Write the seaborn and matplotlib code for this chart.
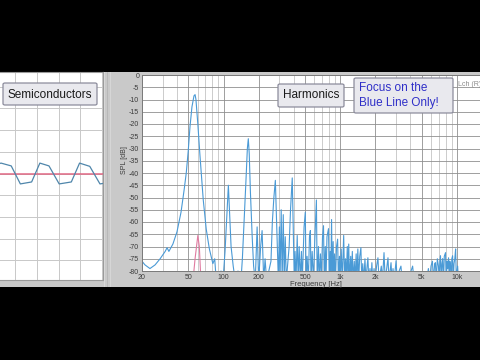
import numpy as np
import pandas as pd
import matplotlib
matplotlib.use("Agg")
import matplotlib.pyplot as plt
from matplotlib.patches import Rectangle, FancyBboxPatch
from matplotlib.ticker import FixedLocator, NullFormatter
import seaborn as sns

# ---------------- data ----------------
# main spectrum (blue line): frequency [Hz], SPL [dB]
spec_freq = [20, 21.2, 23.4, 25.9, 28.6, 31.6, 32.8, 34, 36.8, 39.9, 43.2, 45.9, 47.9, 49.8,
             51.6, 53.6, 55.8, 57, 58, 60.2, 62.6, 67, 71.1, 75.6, 81, 84, 86.6, 91.6, 95.1,
             98.9, 103, 106, 110, 113, 116, 121, 126, 133, 141, 145, 150, 156, 160, 163, 166,
             170, 176, 181, 187, 194, 200, 208, 214, 221, 227, 234, 255, 262, 270, 278, 283,
             289, 295, 301, 305, 312, 318, 325, 331, 338, 345, 365, 375, 388, 395, 404, 410,
             418, 428, 436, 445, 455, 465, 473, 490, 502, 510, 520, 533, 545, 555, 562, 575,
             589, 605, 625, 635, 651, 660, 677, 690, 705, 719, 730, 745, 755, 770, 794, 805,
             820, 830, 843, 855, 870, 880, 895, 910, 930, 950, 965, 985, 1000, 1020, 1040,
             1071, 1090, 1110, 1125, 1150, 1165, 1183, 1200, 1230, 1245, 1270, 1290, 1320,
             1340, 1370, 1390, 1416, 1440, 1470, 1504, 1530, 1560, 1590, 1630, 1660, 1700,
             1727, 1760, 1800, 1840, 1868, 1900, 1950, 1990, 2050, 2106, 2150, 2250, 2300,
             2374, 2430, 2500, 2567, 2620, 2726, 2780, 2835, 2900, 3011, 3080, 3200, 3315,
             3400, 3700, 3800, 4175, 4300, 5500, 5700, 5850, 6000, 6170, 6300, 6450, 6550,
             6650, 6800, 6950, 7050, 7150, 7235, 7350, 7450, 7550, 7682, 7800, 7993, 8100,
             8250, 8350, 8486, 8600, 8700, 8831, 8950, 9050, 9190, 9300, 9450, 9600, 9757,
             9900, 10150, 10300, 20000]
spec_db = [-76, -77.5, -79, -77.5, -75, -72, -70.5, -72, -69, -64, -56, -47, -40, -31,
           -21, -13, -8.5, -8, -10, -20, -32, -51, -63, -71, -77, -75, -84, -84, -80,
           -84, -72, -60, -45, -58, -70, -78, -84, -80, -84, -75, -60, -42, -30, -26, -32,
           -48, -66, -78, -84, -62, -84, -70, -63.5, -84, -75, -84, -76, -60, -50, -43, -55,
           -70, -84, -62, -84, -55, -84, -57, -84, -66, -84, -70, -55, -42, -60, -84, -72,
           -84, -65.5, -84, -70, -84, -72, -84, -62, -56, -84, -74, -84, -66, -63.5, -84, -72,
           -84, -68, -51, -84, -70, -84, -73, -84, -66, -61.5, -84, -70, -84, -66, -62.7, -84,
           -72, -84, -59, -84, -68, -84, -73, -84, -70, -67, -84, -74, -84, -71, -84,
           -65.5, -84, -75, -84, -70, -84, -69, -84, -74, -84, -72, -84, -76,
           -84, -73, -84, -71, -84, -74, -70.5, -84, -77, -84, -75, -84, -78,
           -74.6, -84, -79, -84, -76.6, -84, -79, -84, -78, -74.6, -84, -78, -84,
           -72.5, -84, -79, -74.6, -84, -76.6, -84, -79, -84, -75.8, -84, -80, -78,
           -84, -81, -84, -78, -84, -84, -79, -84, -78, -76, -84, -77, -76.6,
           -84, -75, -78, -84, -76, -73.8, -84, -77, -75, -84, -74, -72.5, -84,
           -76, -79, -74.6, -84, -76, -78, -84, -75, -73.8, -84, -77, -75, -71,
           -84, -78, -84, -84]

# second trace (pink line)
pink_freq = [20, 50, 54.7, 57, 60.2, 62, 64, 20000]
pink_db = [-90, -90, -84, -75, -65.5, -70, -84, -90]

# left panel waveform (time in grid divisions, level in divisions)
wave_t = [-0.80, -0.66, -0.19, 0.23, 0.75, 1.13, 1.55, 2.02, 2.58, 2.96, 3.43, 3.90, 4.10]
wave_v = [0.44, 0.48, 0.35, -0.48, -0.39, 0.48, 0.35, -0.48, -0.39, 0.48, 0.33, -0.48, -0.45]
ref_t = [-0.80, 4.10]
ref_v = [0.0, 0.0]

x_ticks = [20, 50, 100, 200, 500, 1000, 2000, 5000, 10000]
x_labels = ["20", "50", "100", "200", "500", "1k", "2k", "5k", "10k"]
y_ticks = list(range(0, -85, -5))
y_labels = [str(v) for v in y_ticks]

spec = pd.DataFrame({"freq": spec_freq, "spl": spec_db})
pink = pd.DataFrame({"freq": pink_freq, "spl": pink_db})
wave = pd.DataFrame({"t": wave_t, "v": wave_v})
ref = pd.DataFrame({"t": ref_t, "v": ref_v})

# ---------------- figure ----------------
sns.set_style("white")
plt.rcParams["font.family"] = ["Liberation Sans", "DejaVu Sans"]

W, H = 480, 360
fig = plt.figure(figsize=(4.8, 3.6), dpi=100, facecolor="black")


def fx(px):
    return px / W


def fy(py):
    return 1 - py / H


# gray window body
fig.add_artist(Rectangle((0, fy(287)), 1, fy(72) - fy(287), transform=fig.transFigure,
                         facecolor="#c9c9c9", edgecolor="none", zorder=0))
# splitter stripes (subtle)
for px, col in [(104, "#d8d8d8"), (107, "#b8b8b8"), (110, "#d6d6d6")]:
    fig.add_artist(Rectangle((fx(px), fy(287)), fx(1), fy(72) - fy(287),
                             transform=fig.transFigure, facecolor=col, edgecolor="none",
                             zorder=0.5))

# ---------- left panel ----------
axl = fig.add_axes([fx(-2), fy(280), fx(105), fy(72) - fy(280)])
axl.set_facecolor("white")
sns.lineplot(data=ref, x="t", y="v", ax=axl, color="#e0607e", lw=1.3, alpha=0.8,
             sort=False, estimator=None)
sns.lineplot(data=wave, x="t", y="v", ax=axl, color="#4f86ab", lw=0.9,
             sort=False, estimator=None)
axl.set_xlim(-0.8, 4.04)
axl.set_ylim(-4.91, 4.68)
axl.set_xticks([0, 1, 2, 3, 4])
axl.set_yticks([-4, -3, -2, -1, 0, 1, 2, 3, 4])
axl.grid(True, color="#c8c8c8", lw=0.7)
axl.tick_params(length=0, labelbottom=False, labelleft=False)
axl.set_xlabel("")
axl.set_ylabel("")
for s in axl.spines.values():
    s.set_color("#9a9a9a")
    s.set_linewidth(0.8)

# ---------- main spectrum axes ----------
ax = fig.add_axes([fx(142), fy(271), fx(492 - 142), fy(75) - fy(271)])
ax.set_facecolor("white")
ax.set_xscale("log")
sns.lineplot(data=pink, x="freq", y="spl", ax=ax, color="#e07aa0", lw=0.8,
             sort=False, estimator=None)
sns.lineplot(data=spec, x="freq", y="spl", ax=ax, color="#4a9ad6", lw=0.8,
             sort=False, estimator=None)
ax.set_xlim(20, 20000)
ax.set_ylim(-80, 0)
ax.xaxis.set_major_locator(FixedLocator(x_ticks))
ax.set_xticklabels(x_labels)
minor = [m * d for d in (10, 100, 1000, 10000) for m in range(1, 10)
         if m * d not in x_ticks and 20 <= m * d <= 20000]
ax.xaxis.set_minor_locator(FixedLocator(minor))
ax.xaxis.set_minor_formatter(NullFormatter())
ax.set_yticks(y_ticks)
ax.set_yticklabels(y_labels)
ax.grid(True, which="major", axis="both", color="#8f8f8f", lw=0.6)
ax.grid(True, which="minor", axis="x", color="#c4c4c4", lw=0.6)
ax.tick_params(which="both", length=0, labelsize=5, colors="#3a3a3a", pad=2)
ax.set_xlabel("")
ax.set_ylabel("")
for s in ax.spines.values():
    s.set_color("#7a7a7a")
    s.set_linewidth(0.7)

fig.text(fx(124), fy(160), "SPL [dB]", rotation=90, ha="center", va="center",
         fontsize=5, color="#3a3a3a")
fig.text(fx(316), fy(284), "Frequency [Hz]", ha="center", va="center",
         fontsize=5.5, color="#3a3a3a")
fig.text(fx(458), fy(84), "Lch (R)", ha="left", va="center", fontsize=5, color="#8a8a8a")


# ---------- overlay boxes ----------
def box(x0, y0, x1, y1):
    fig.add_artist(FancyBboxPatch((fx(x0), fy(y1)), fx(x1 - x0), fy(y0) - fy(y1),
                                  boxstyle="round,pad=0,rounding_size=0.004",
                                  transform=fig.transFigure, facecolor="#e9e9ee",
                                  edgecolor="#8c8c9c", lw=0.9, zorder=5))


box(3, 83, 97, 105)
fig.text(fx(50), fy(94.5), "Semiconductors", ha="center", va="center", fontsize=8.5,
         color="#1a1a1a", zorder=6)
box(278, 84, 344, 107)
fig.text(fx(311), fy(95.5), "Harmonics", ha="center", va="center", fontsize=8.5,
         color="#1a1a1a", zorder=6)
box(354, 78, 453, 113)
fig.text(fx(359), fy(88), "Focus on the", ha="left", va="center", fontsize=8.5,
         color="#2f2fc8", zorder=6)
fig.text(fx(359), fy(103), "Blue Line Only!", ha="left", va="center", fontsize=8.5,
         color="#2f2fc8", zorder=6)

fig.savefig("out.png", dpi=100, facecolor="black")
